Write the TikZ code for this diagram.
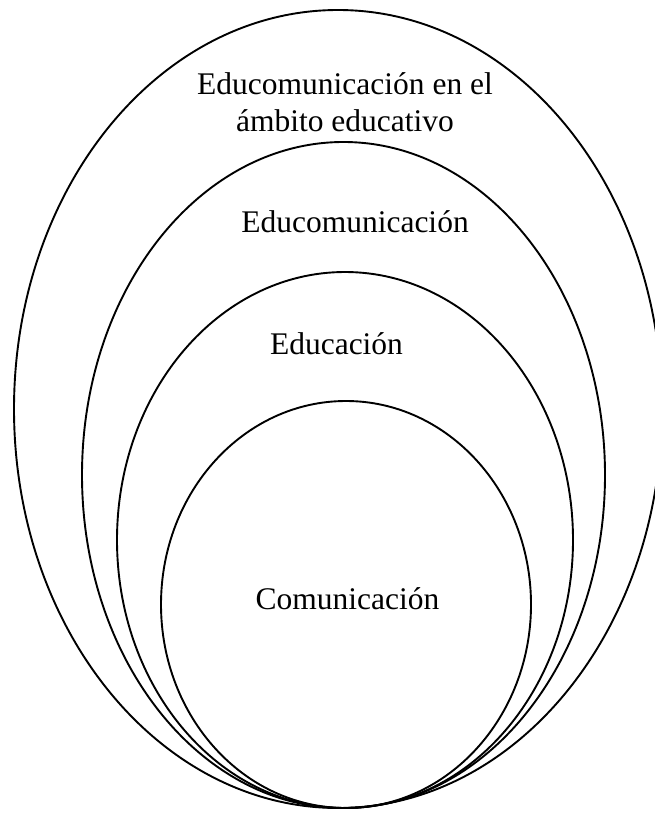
\documentclass[tikz,border=0pt]{standalone}
\usepackage{fontspec}
\setmainfont{Liberation Serif}
\begin{document}
\begin{tikzpicture}[x=1pt,y=-1pt,
  ring/.style={draw=black,line width=1.9pt},
  lbl/.style={inner sep=0pt,anchor=base,font=\fontsize{31.5}{37}\selectfont}]
\useasboundingbox (0,0) rectangle (655,813);
\draw[ring] (338,409) ellipse [x radius=324,y radius=399];
\draw[ring] (343.5,475) ellipse [x radius=261.5,y radius=333];
\draw[ring] (345,540) ellipse [x radius=228,y radius=268];
\draw[ring] (346,604.5) ellipse [x radius=185,y radius=203.5];
\node[lbl,align=center] (outer) at (345,132) {Educomunicación en el\\ámbito educativo};
\node[lbl] (educom) at (355,232) {Educomunicación};
\node[lbl] (educ) at (336.5,354) {Educación};
\node[lbl] (com) at (347.5,609) {Comunicación};
\end{tikzpicture}
\end{document}
